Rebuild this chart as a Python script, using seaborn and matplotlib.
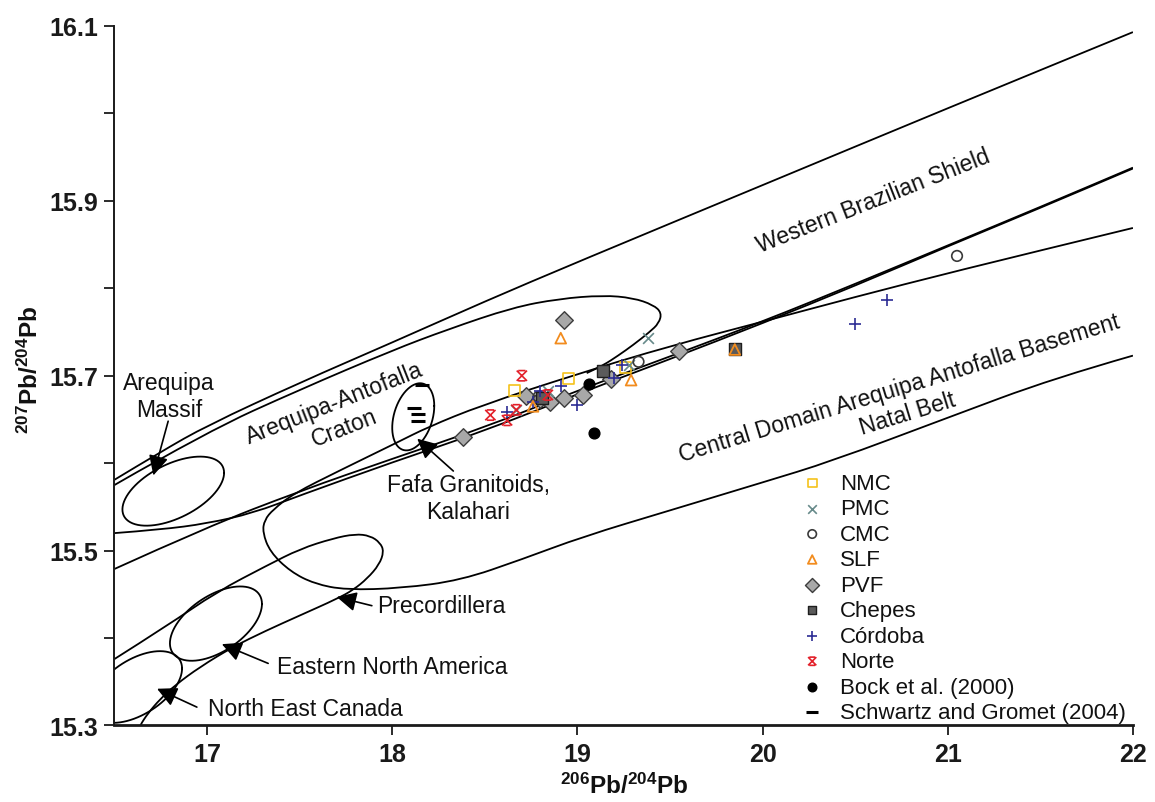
# -*- coding: utf-8 -*-
# Pb isotope diagram: 207Pb/204Pb vs 206Pb/204Pb with reference fields

import numpy as np
import matplotlib
matplotlib.use("Agg")
import matplotlib.pyplot as plt
from matplotlib.path import Path
from matplotlib.patches import PathPatch
import seaborn as sns

sns.set_theme(style="white")
plt.rcParams["font.family"] = ["Liberation Sans", "DejaVu Sans"]
plt.rcParams["mathtext.fontset"] = "custom"
plt.rcParams["mathtext.rm"] = "Liberation Sans"
plt.rcParams["mathtext.bf"] = "Liberation Sans:bold"
plt.rcParams["text.color"] = "#111111"
plt.rcParams["axes.labelcolor"] = "#111111"

# ---------------- sample data (206Pb/204Pb, 207Pb/204Pb) ----------------
NMC_X = [18.66, 18.95, 19.26]
NMC_Y = [15.683, 15.697, 15.709]
PMC_X = [18.67, 18.84, 19.28, 19.38]
PMC_Y = [15.661, 15.682, 15.712, 15.743]
CMC_X = [18.79, 19.33, 21.05]
CMC_Y = [15.676, 15.716, 15.837]
SLF_X = [18.76, 18.91, 19.29, 19.85]
SLF_Y = [15.665, 15.743, 15.695, 15.730]
PVF_X = [18.38, 18.72, 18.80, 18.85, 18.93, 19.03, 19.18, 19.55, 18.93]
PVF_Y = [15.630, 15.677, 15.673, 15.670, 15.675, 15.678, 15.696, 15.728, 15.764]
CHEPES_X = [18.81, 19.14, 19.85]
CHEPES_Y = [15.675, 15.705, 15.730]
CORDOBA_X = [18.62, 18.76, 18.80, 18.91, 19.00, 19.20, 19.24, 20.50, 20.67]
CORDOBA_Y = [15.659, 15.670, 15.682, 15.688, 15.667, 15.697, 15.712, 15.759, 15.787]
NORTE_X = [18.53, 18.62, 18.67, 18.70, 18.84]
NORTE_Y = [15.655, 15.649, 15.661, 15.700, 15.678]
BOCK_X = [19.06, 19.09]
BOCK_Y = [15.690, 15.635]
SCHWARTZ_X = [18.16, 18.12, 18.14, 18.14]
SCHWARTZ_Y = [15.689, 15.663, 15.656, 15.648]

# ---------------- reference field boundaries ----------------
TOP_X = [16.5, 16.75, 17.0, 17.5, 18.0, 18.5, 19.0, 20.0, 21.0, 22.0]
TOP_Y = [15.581, 15.613, 15.643, 15.692, 15.738, 15.785, 15.830, 15.918, 16.006, 16.093]

CRATON_X = [16.5, 17.0, 17.5, 18.0, 18.3, 18.65, 18.9, 19.14, 19.3, 19.41, 19.455,
            19.44, 19.39, 19.30, 19.22, 19.14, 19.05]
CRATON_Y = [15.575, 15.636, 15.684, 15.729, 15.753, 15.778, 15.788, 15.792, 15.789,
            15.781, 15.772, 15.760, 15.750, 15.735, 15.723, 15.712, 15.703]

LOWER_B_X = [16.5, 17.0, 17.5, 18.0, 18.5, 19.0, 19.5, 20.0, 20.5, 21.0, 21.5, 22.0]
LOWER_B_Y = [15.479, 15.527, 15.568, 15.605, 15.641, 15.683, 15.722, 15.762, 15.805,
             15.849, 15.893, 15.938]
LOWER_A_X = [16.5, 16.75, 17.0, 17.25, 17.5, 18.0, 18.5, 19.0, 19.5, 20.0, 20.5, 21.0,
             21.5, 22.0]
LOWER_A_Y = [15.520, 15.524, 15.531, 15.543, 15.563, 15.601, 15.637, 15.679, 15.719,
             15.760, 15.803, 15.848, 15.892, 15.937]

BASEMENT_X = [22.0, 21.57, 21.0, 20.37, 20.0, 19.5, 19.03, 18.7, 18.37, 18.05, 17.75,
              17.58, 17.45, 17.34, 17.30, 17.31, 17.357, 17.466, 17.72, 18.03, 18.19,
              18.48, 19.0, 19.5, 20.04, 20.48, 21.05, 22.0]
BASEMENT_Y = [15.723, 15.697, 15.652, 15.602, 15.578, 15.546, 15.516, 15.490, 15.466,
              15.457, 15.455, 15.462, 15.476, 15.4985, 15.521, 15.535, 15.547, 15.565,
              15.592, 15.624, 15.641, 15.666, 15.702, 15.734, 15.764, 15.789, 15.820,
              15.869]

PRECORD_X = [16.50, 16.784, 17.054, 17.324, 17.503, 17.681, 17.80, 17.881, 17.935,
             17.955, 17.930, 17.865, 17.789, 17.703, 17.503, 17.314, 17.141, 16.962,
             16.827, 16.746, 16.681, 16.638, 16.605]
PRECORD_Y = [15.376, 15.414, 15.453, 15.483, 15.502, 15.514, 15.519, 15.517, 15.509,
             15.499, 15.484, 15.468, 15.455, 15.445, 15.426, 15.408, 15.390, 15.367,
             15.346, 15.330, 15.314, 15.300, 15.285]

# small fields: centre x, centre y, half-width x, half-height y, tilt phase (deg)
MASSIF_FIELD = [16.8175, 15.568, 0.2745, 0.0395, 58]
FAFA_FIELD = [18.1135, 15.653, 0.1135, 0.0384, 71]
ENA_FIELD = [17.048, 15.4165, 0.2485, 0.0425, 58]
NEC_FIELD = [16.62, 15.344, 0.245, 0.041, 59]

X_TICKS = [17, 18, 19, 20, 21, 22]
Y_TICKS = [15.3, 15.5, 15.7, 15.9, 16.1]
Y_MINOR = [15.4, 15.6, 15.8, 16.0]

# asterisk-like marker for Norte: an X closed by short bars top and bottom
NORTE_MARKER = Path(
    [(-1, -1), (1, 1), (-1, 1), (1, -1), (-0.7, 1), (0.7, 1), (-0.7, -1), (0.7, -1)],
    [Path.MOVETO, Path.LINETO, Path.MOVETO, Path.LINETO,
     Path.MOVETO, Path.LINETO, Path.MOVETO, Path.LINETO])


def smooth_curve(xs, ys):
    """quadratic B-spline style path through the traced vertices"""
    pts = list(zip(xs, ys))
    verts, codes = [pts[0]], [Path.MOVETO]
    for i in range(1, len(pts) - 1):
        nxt = pts[i + 1]
        mid = ((pts[i][0] + nxt[0]) / 2, (pts[i][1] + nxt[1]) / 2)
        verts += [pts[i], mid]
        codes += [Path.CURVE3, Path.CURVE3]
    verts.append(pts[-1])
    codes.append(Path.LINETO)
    return Path(verts, codes)


def field_outline(cx, cy, hx, hy, phase):
    t = np.linspace(0, 2 * np.pi, 240)
    return cx + hx * np.cos(t), cy + hy * np.cos(t - np.radians(phase))


def main():
    fig = plt.figure(figsize=(11.55, 8.03), dpi=100)
    ax = fig.add_axes([0.0991, 0.0953, 0.8818, 0.8711])

    for xs, ys in [(TOP_X, TOP_Y), (CRATON_X, CRATON_Y), (LOWER_B_X, LOWER_B_Y),
                   (LOWER_A_X, LOWER_A_Y), (BASEMENT_X, BASEMENT_Y),
                   (PRECORD_X, PRECORD_Y)]:
        ax.add_patch(PathPatch(smooth_curve(xs, ys), fill=False, edgecolor="black",
                               lw=1.3, zorder=1))
    for fld in [MASSIF_FIELD, FAFA_FIELD, ENA_FIELD, NEC_FIELD]:
        ex, ey = field_outline(*fld)
        ax.plot(ex, ey, color="black", lw=1.3, zorder=1)

    # sample groups: name, x, y, marker, size, face, edge, linewidth, zorder
    groups = [
        ("NMC", NMC_X, NMC_Y, "s", 60, "none", "#F5C21B", 1.2, 5),
        ("PMC", PMC_X, PMC_Y, "x", 60, None, "#678A8A", 1.2, 5),
        ("CMC", CMC_X, CMC_Y, "o", 58, "none", "#3A3A3A", 1.2, 5),
        ("SLF", SLF_X, SLF_Y, "^", 60, "none", "#F28C1E", 1.3, 7),
        ("PVF", PVF_X, PVF_Y, "D", 80, "#A8A8A8", "#3C3C3C", 1.0, 4),
        ("Chepes", CHEPES_X, CHEPES_Y, "s", 65, "#5B5B5B", "#1E1E1E", 1.0, 6),
        ("Córdoba", CORDOBA_X, CORDOBA_Y, "+", 85, None, "#2C2C94", 1.2, 6),
        ("Norte", NORTE_X, NORTE_Y, NORTE_MARKER, 55, "none", "#E3202A", 1.2, 6),
        ("Bock et al. (2000)", BOCK_X, BOCK_Y, "o", 60, "black", "black", 1.0, 6),
        ("Schwartz and Gromet (2004)", SCHWARTZ_X, SCHWARTZ_Y, "_", 110, None,
         "black", 2.2, 6),
    ]
    for name, xs, ys, mk, size, fc, ec, lw, z in groups:
        if fc is None:
            # line-only markers take their colour from the face
            kw = dict(color=ec)
        else:
            kw = dict(facecolor=fc, edgecolor=ec, color=ec)
        sns.scatterplot(x=xs, y=ys, marker=mk, s=size, linewidth=lw, label=name,
                        zorder=z, ax=ax, **kw)

    # labels of the fields
    fs = 16.5
    txt = dict(fontsize=fs, ha="center", va="center", rotation_mode="anchor",
               multialignment="center", zorder=8)
    ax.text(20.60, 15.900, "Western Brazilian Shield", rotation=21.5, **txt)
    ax.text(17.713, 15.655, "Arequipa-Antofalla\nCraton", rotation=21.5, **txt)
    ax.text(20.762, 15.672, "Central Domain Arequipa Antofalla Basement\nNatal Belt",
            rotation=17, **txt)
    ax.text(16.795, 15.677, "Arequipa\nMassif", **txt)
    ax.text(18.41, 15.560, "Fafa Granitoids,\nKalahari", **txt)
    ax.text(17.919, 15.437, "Precordillera", fontsize=fs, ha="left", va="center")
    ax.text(17.378, 15.368, "Eastern North America", fontsize=fs, ha="left", va="center")
    ax.text(17.005, 15.319, "North East Canada", fontsize=fs, ha="left", va="center")

    arrow_kw = dict(arrowstyle="-|>,head_length=0.6,head_width=0.3", color="black",
                    lw=1.2, shrinkA=0, shrinkB=0, mutation_scale=20)
    for tip, tail in [((16.71, 15.586), (16.79, 15.648)),
                      ((18.135, 15.628), (18.33, 15.591)),
                      ((17.70, 15.447), (17.89, 15.437)),
                      ((17.08, 15.393), (17.33, 15.371)),
                      ((16.73, 15.342), (16.945, 15.321))]:
        ax.annotate("", xy=tip, xytext=tail, arrowprops=arrow_kw, zorder=7)

    # axes
    ax.set_xlim(16.5, 22)
    ax.set_ylim(15.3, 16.1)
    ax.set_xticks(X_TICKS)
    ax.set_xticklabels([str(v) for v in X_TICKS], fontweight="bold", fontsize=18)
    ax.set_yticks(Y_TICKS)
    ax.set_yticklabels([f"{v:.1f}" for v in Y_TICKS], fontweight="bold", fontsize=18)
    ax.set_yticks(Y_MINOR, minor=True)
    ax.tick_params(axis="both", which="both", direction="out", length=7, width=1.3,
                   colors="#1a1a1a", left=True, bottom=True)
    ax.tick_params(axis="x", pad=5)
    ax.tick_params(axis="y", pad=5)
    sns.despine(ax=ax)
    ax.spines["left"].set_linewidth(1.4)
    ax.spines["bottom"].set_linewidth(2.0)
    for sp in ["left", "bottom"]:
        ax.spines[sp].set_color("#1a1a1a")

    ax.set_xlabel(r"$\mathbf{^{206}Pb/^{204}Pb}$", fontsize=17.5, va="center")
    ax.xaxis.set_label_coords(0.5, -0.085)
    ax.set_ylabel(r"$\mathbf{^{207}Pb/^{204}Pb}$", fontsize=17.5, va="center")
    ax.yaxis.set_label_coords(-0.083, 0.51)

    handles, labels = ax.get_legend_handles_labels()
    ax.legend(handles, labels, loc="upper left", bbox_to_anchor=(0.672, 0.361),
              frameon=False, fontsize=16, handletextpad=0.65, handlelength=1.2,
              labelspacing=0.2, markerscale=0.8, borderaxespad=0, borderpad=0)

    fig.savefig("out.png", dpi=100)


if __name__ == "__main__":
    main()
